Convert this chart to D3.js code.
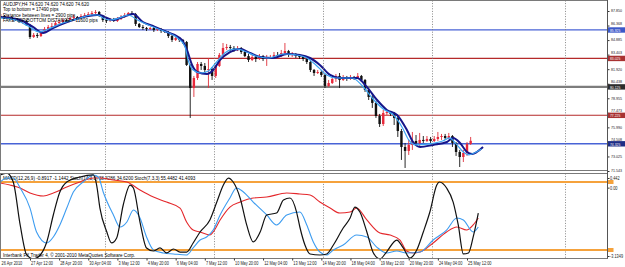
<!DOCTYPE html>
<html><head><meta charset="utf-8">
<script src="https://cdn.jsdelivr.net/npm/d3@7"></script>
<style>
html,body{margin:0;padding:0;background:#fff;overflow:hidden}
svg{display:block}
text{font-family:"Liberation Sans",Arial,sans-serif}
</style>
</head><body>
<svg id="c" width="625" height="267"></svg>
<script>
// ---------- DATA ----------
const opens = [87.14,87.24,87.34,87.14,87.24,87.04,86.93,86.73,86.83,86.42,
85.20,85.41,85.30,85.71,86.02,86.22,86.32,86.63,86.73,86.93,
86.83,87.14,87.24,87.14,87.34,87.44,87.54,87.65,87.75,87.34,
86.93,86.83,87.04,86.83,87.04,87.24,87.44,87.65,87.54,86.53,
86.22,86.12,86.02,86.12,85.91,86.02,85.81,85.71,85.30,84.90,
85.10,84.90,84.69,82.35,80.00,81.02,82.45,82.25,81.84,81.94,
81.23,82.25,83.37,84.08,84.18,84.08,83.98,84.08,83.67,83.26,
82.86,83.16,82.96,83.26,82.96,83.06,83.16,83.37,83.26,83.57,
83.77,83.37,83.47,83.26,83.16,82.96,82.65,81.84,81.53,81.63,
81.33,80.21,80.51,80.92,81.23,80.82,81.02,80.92,81.13,81.02,
81.23,80.82,79.80,79.09,78.48,77.15,76.33,77.46,77.56,77.36,
76.95,75.62,73.99,73.59,74.20,74.60,74.40,74.71,74.60,74.81,
74.60,74.81,75.01,75.11,74.91,75.11,74.40,73.48,72.97,73.38,
74.30];
const highs = [87.44,87.54,87.44,87.44,87.34,87.14,87.04,86.93,86.93,86.53,
85.61,85.61,85.81,86.22,86.42,86.63,86.83,86.93,87.14,87.04,
87.24,87.44,87.34,87.54,87.65,87.75,87.85,87.95,87.85,87.44,
87.14,87.14,87.14,87.24,87.44,87.65,87.75,87.85,87.65,86.63,
86.42,86.22,86.22,86.22,86.12,86.12,85.91,85.81,85.41,85.20,
85.20,85.00,84.79,82.45,81.23,82.65,82.65,82.55,83.06,82.14,
82.35,83.57,84.59,84.49,84.39,84.28,84.28,84.18,83.88,83.47,
83.37,83.37,83.47,83.37,83.37,83.37,83.67,83.67,83.88,84.59,
83.88,83.67,83.57,83.47,83.26,83.16,82.75,81.94,81.84,81.84,
81.43,80.82,81.13,81.43,81.53,81.33,81.23,81.33,81.23,81.53,
81.33,80.92,79.90,79.29,78.68,77.36,77.76,77.76,77.66,77.56,
77.15,75.83,74.40,74.71,75.52,75.21,75.42,75.11,75.11,75.01,
75.11,75.52,75.32,75.32,75.42,75.21,74.50,73.69,73.69,74.50,
75.01];
const lows = [87.04,87.14,87.04,87.04,86.93,86.83,86.63,86.53,86.32,85.00,
85.10,85.10,85.20,85.61,85.91,86.12,86.22,86.53,86.63,86.73,
86.73,87.04,87.04,87.04,87.24,87.34,87.44,87.54,87.24,86.73,
86.63,86.73,86.73,86.73,86.93,87.14,87.34,87.44,86.32,86.12,
85.91,85.81,85.91,85.71,85.81,85.61,85.61,85.10,84.69,84.79,
84.69,84.49,82.25,76.95,79.09,80.82,81.84,81.53,80.00,80.82,
81.02,82.14,83.26,83.88,83.77,83.67,83.77,83.47,83.16,82.65,
82.75,82.65,82.86,82.75,82.25,82.96,83.06,83.06,83.16,83.47,
83.16,83.16,83.06,82.96,82.75,82.45,81.63,81.23,81.43,81.13,
80.00,80.11,80.41,80.62,80.00,80.72,80.72,80.82,80.82,80.92,
80.62,79.60,78.78,77.97,76.95,76.03,76.13,77.25,77.15,76.23,
75.01,72.67,71.85,73.18,73.69,74.09,73.99,74.40,74.50,74.40,
74.50,74.60,74.71,74.71,74.81,73.99,73.08,71.95,72.46,73.08,
74.20];
const closes = [87.24,87.34,87.14,87.24,87.04,86.93,86.73,86.83,86.42,85.20,
85.41,85.30,85.71,86.02,86.22,86.32,86.63,86.73,86.93,86.83,
87.14,87.24,87.14,87.34,87.44,87.54,87.65,87.75,87.34,86.93,
86.83,87.04,86.83,87.04,87.24,87.44,87.65,87.54,86.53,86.22,
86.12,86.02,86.12,85.91,86.02,85.81,85.71,85.30,84.90,85.10,
84.90,84.69,82.35,80.00,81.02,82.45,82.25,81.84,81.94,81.23,
82.25,83.37,84.08,84.18,84.08,83.98,84.08,83.67,83.26,82.86,
83.16,82.96,83.26,82.96,83.06,83.16,83.37,83.26,83.57,83.77,
83.37,83.47,83.26,83.16,82.96,82.65,81.84,81.53,81.63,81.33,
80.21,80.51,80.92,81.23,80.82,81.02,80.92,81.13,81.02,81.23,
80.82,79.80,79.09,78.48,77.15,76.33,77.46,77.56,77.36,76.95,
75.62,73.99,73.59,74.20,74.60,74.40,74.71,74.60,74.81,74.60,
74.81,75.01,75.11,74.91,75.11,74.40,73.48,72.97,73.38,74.30,
74.62];

// moving averages: [bar, price]
const maSlow = [[0.8,87.24],[6.3,86.93],[9.8,86.22],[12.6,85.61],[15.3,86.12],[19.2,86.73],[22.7,87.14],[27.4,87.44],[28.2,87.44],[30.1,87.14],[31.8,86.93],[34.5,87.24],[37.3,87.54],[40.0,86.73],[42.8,86.32],[46.6,85.71],[50.7,84.90],[52.1,83.88],[53.5,82.35],[54.9,81.63],[57.6,81.43],[59.3,81.84],[61.2,82.86],[63.9,83.67],[66.7,83.98],[69.4,83.57],[72.2,83.16],[75.7,83.06],[79.6,83.47],[83.1,83.37],[85.9,83.06],[88.6,82.35],[91.4,81.33],[94.1,81.02],[98.8,81.02],[101.5,80.11],[104.3,78.78],[107.0,77.76],[109.8,77.25],[112.5,75.72],[114.2,74.50],[116.1,73.99],[119.7,74.20],[123.5,74.50],[125.2,74.91],[127.1,74.40],[129.0,73.48],[130.4,73.28],[131.7,73.48],[133.4,73.99]];
const maFast = [[0.8,87.14],[5,86.93],[8.5,86.32],[11.5,85.71],[14,86.02],[18,86.63],[22,87.04],[26,87.44],[27.5,87.44],[29.5,87.04],[31,86.93],[33.5,87.14],[36,87.44],[38.5,86.93],[41.5,86.42],[45,85.91],[49.5,85.10],[51.5,84.28],[52.5,82.75],[53.8,81.84],[56,81.53],[58,81.74],[60,82.55],[62.5,83.57],[65.5,83.98],[68.5,83.67],[71,83.26],[74.5,83.06],[78.5,83.47],[82,83.37],[85,83.06],[87.5,82.35],[90.5,81.33],[93,81.02],[97.5,81.02],[100.3,80.21],[103.2,78.88],[106,77.86],[108.8,77.25],[111.3,75.93],[113,74.71],[115,74.20],[118.5,74.30],[122.3,74.60],[124.2,74.91],[126,74.30],[128,73.48],[129.5,73.18],[131,73.38],[133,73.79]];

const levelPrices = [85.925, 83.025, 80.125, 77.225, 74.325];
const priceTicks = [87.850, 86.368, 84.885, 83.403, 81.920, 80.438, 78.955, 77.473, 75.990, 74.508, 73.025, 71.543];
const timeBars = [0,9,17,25,33,41,49,57,65,73,81,89,97,105,113,121,129];
const timeLabels = ["26 Apr 2010","27 Apr 12:00","28 Apr 20:00","30 Apr 04:00","3 May 12:00","4 May 20:00","6 May 04:00","7 May 12:00","10 May 20:00","12 May 04:00","13 May 12:00","14 May 20:00","18 May 04:00","19 May 12:00","20 May 20:00","24 May 04:00","25 May 12:00"];
const separatorBars = [29.5, 59.5, 89.5, 119.5, 156];

const headerLines = ["AUDJPY,H4  74.620 74.620 74.620 74.620","Top to bottom = 17490 pips","Distance between lines = 2900 pips","FAKE TOP/BOTTOM DISTANCE = 11600 pips"];
const oscHeader = "MACD(12,26,9) -0.8917 -1.1442  Stoch(14,3,3) 38.4286 34.6200  Stoch(7,3,3) 55.4482 41.4093";
const footer = "Interbank FX Trader 4, \u00A9 2001-2010 MetaQuotes Software Corp.";

// oscillators: [bar, value]
const oscSlow = [[0.8,79.1],[3.5,77.3],[6.3,74.7],[9.0,70.3],[12.7,67.6],[15.4,70.3],[19.1,75.6],[22.7,80.0],[26.4,83.5],[28.2,83.5],[31.9,81.8],[35.6,80.0],[39.2,72.9],[42.9,66.7],[46.5,62.3],[50.2,57.0],[52.0,44.7],[53.8,37.6],[55.7,35.9],[58.4,33.2],[59.3,35.9],[61.2,46.5],[63.9,57.9],[66.7,62.3],[70.3,65.9],[74.0,66.7],[79.5,70.3],[83.1,69.4],[85.9,68.5],[88.6,62.3],[91.4,57.0],[94.1,52.6],[96.9,53.5],[98.7,57.0],[101.5,46.5],[105.1,35.0],[107.9,33.2],[110.6,28.8],[112.4,19.1],[114.2,17.4],[116.1,18.2],[119.7,26.2],[123.4,35.9],[126.2,40.3],[128.9,37.6],[130.7,42.1],[132.1,48.2]];
const oscSignal = [[0.8,80.0],[2.6,83.5],[4.4,83.5],[6.3,74.7],[9.0,57.0],[10.8,35.9],[13.6,26.2],[15.4,31.5],[17.2,42.1],[19.1,57.0],[20.9,71.2],[23.6,80.0],[26.4,86.2],[27.8,84.4],[29.1,71.2],[31.9,50.9],[33.7,40.3],[35.6,44.7],[37.4,55.3],[39.2,48.2],[41.0,31.5],[42.9,20.0],[45.6,17.4],[48.4,16.5],[52.0,15.6],[53.8,21.8],[55.7,28.8],[57.5,31.5],[59.3,37.6],[61.2,50.9],[63.9,65.9],[65.7,74.7],[67.6,71.2],[70.3,62.3],[74.0,50.9],[76.7,42.1],[79.5,50.9],[83.1,53.5],[85.0,42.1],[86.8,27.1],[88.6,18.2],[90.5,15.6],[92.3,20.0],[95.0,24.4],[98.7,33.2],[101.5,31.5],[104.2,22.6],[106.9,17.4],[109.7,19.1],[112.4,17.4],[116.1,18.2],[119.7,28.8],[123.4,37.6],[126.2,48.2],[128.0,46.5],[130.7,35.9],[132.1,40.3]];
const oscFast = [[0.8,86.2],[2.6,87.9],[4.4,80.0],[6.3,42.1],[8.1,15.6],[9.9,12.1],[11.8,15.6],[13.6,27.1],[15.4,50.9],[17.2,71.2],[19.1,80.0],[22.7,84.4],[26.4,86.2],[27.3,77.3],[28.2,57.0],[30.1,35.9],[31.4,26.2],[32.8,30.6],[34.6,59.7],[36.5,77.3],[37.4,74.7],[39.2,44.7],[41.0,21.8],[42.9,19.1],[44.7,21.8],[46.5,17.4],[48.4,20.9],[50.2,18.2],[52.0,18.2],[53.8,26.2],[55.7,35.9],[58.4,46.5],[60.3,62.3],[62.1,77.3],[63.5,83.5],[64.8,80.0],[66.7,65.9],[68.5,42.1],[70.3,27.1],[72.2,35.9],[74.0,50.9],[76.7,52.6],[78.6,64.1],[80.4,65.9],[82.2,53.5],[83.1,40.3],[84.5,24.4],[85.9,16.5],[88.6,15.6],[90.5,16.5],[92.3,24.4],[95.0,39.4],[96.9,48.2],[98.2,57.9],[99.6,53.5],[101.5,35.9],[103.3,17.4],[105.1,12.1],[106.9,18.2],[109.7,28.8],[111.5,21.8],[113.3,12.9],[115.2,20.0],[117.0,35.9],[118.8,53.5],[120.7,77.3],[121.4,80.0],[123.4,74.7],[125.2,62.3],[126.6,42.1],[128.0,16.5],[129.4,17.4],[130.7,31.5],[132.1,52.6]];
const oscLevels = [80, 20];
const macdTicks = [0.442, 0, -3.1349];
const macdLabels = ["0.442", "0.00", "-3.1349"];

// ---------- STYLES / LAYOUT ----------
const FS = 4.6;
const SX = 0.84; // horizontal compression of small axis texts
const levelStroke = ["#4863d6", "#b52a2a", "#7d7d7d", "#b52a2a", "#4863d6"];
const levelWidth = [1.4, 1.2, 2.2, 1.2, 1.4];
const levelBox = ["#3c58c8", "#a83232", "#2c2c2c", "#a83232", "#1f2e86"];
const plotR = 607.5;
const main = {top: 0.5, bot: 170.5};
const osc = {top: 173.5, bot: 258.5};

const svg = d3.select("#c");
const x = d3.scaleLinear().domain([9, 129]).range([30, 467]);
const yP = d3.scaleLinear().domain([87.850, 71.543]).range([11, 171]);
const yO = d3.scaleLinear().domain([80, 20]).range([182, 250]);
const yM = d3.scaleLinear().domain([0.442, -3.1349]).range([178, 256]);

const defs = svg.append("defs");
defs.append("clipPath").attr("id", "cm").append("rect").attr("x", 0.5).attr("y", main.top).attr("width", plotR - 0.5).attr("height", main.bot - main.top);
defs.append("clipPath").attr("id", "co").append("rect").attr("x", 0.5).attr("y", osc.top).attr("width", plotR - 0.5).attr("height", osc.bot - osc.top);

// ---------- MAIN PANE ----------
const gm = svg.append("g").attr("clip-path", "url(#cm)");
[[main.top, main.bot], [osc.top, osc.bot]].forEach(([t, b]) => {
  svg.append("g").selectAll("line").data(separatorBars).join("line")
    .attr("x1", d => Math.round(x(d)) + 0.5).attr("x2", d => Math.round(x(d)) + 0.5)
    .attr("y1", t).attr("y2", b)
    .attr("stroke", "#7a7a7a").attr("stroke-width", 0.9).attr("stroke-dasharray", "1,1.6");
});
gm.selectAll("line.lvl").data(levelPrices).join("line").attr("class", "lvl")
  .attr("x1", 0).attr("x2", plotR).attr("y1", d => yP(d)).attr("y2", d => yP(d))
  .attr("stroke", (d, i) => levelStroke[i]).attr("stroke-width", (d, i) => levelWidth[i]);

const bars = d3.range(closes.length);
gm.selectAll("line.wick").data(bars).join("line").attr("class", "wick")
  .attr("x1", i => x(i)).attr("x2", i => x(i))
  .attr("y1", i => yP(Math.max(highs[i], opens[i], closes[i])))
  .attr("y2", i => yP(Math.min(lows[i], opens[i], closes[i])))
  .attr("stroke", i => closes[i] > opens[i] ? "#e0303a" : "#111")
  .attr("stroke-width", 0.9);
gm.selectAll("rect.body").data(bars).join("rect").attr("class", "body")
  .attr("x", i => x(i) - 1.2).attr("width", 2.4)
  .attr("y", i => yP(Math.max(opens[i], closes[i])))
  .attr("height", i => Math.max(0.8, Math.abs(yP(opens[i]) - yP(closes[i]))))
  .attr("fill", i => closes[i] > opens[i] ? "#e8283a" : "#111");

const maLine = d3.line().x(d => x(d[0])).y(d => yP(d[1])).curve(d3.curveMonotoneX);
gm.append("path").attr("d", maLine(maSlow)).attr("fill", "none").attr("stroke", "#16168a").attr("stroke-width", 2);
gm.append("path").attr("d", maLine(maFast)).attr("fill", "none").attr("stroke", "#3ba4f2").attr("stroke-width", 1.2);

gm.selectAll("text.hdr").data(headerLines).join("text").attr("class", "hdr")
  .attr("x", 3).attr("y", (d, i) => 6 + i * 5.4)
  .attr("font-size", FS).attr("fill", "#000").text(d => d);

// ---------- OSC PANE ----------
const go = svg.append("g").attr("clip-path", "url(#co)");
go.selectAll("line.ol").data(oscLevels).join("line").attr("class", "ol")
  .attr("x1", 0).attr("x2", plotR).attr("y1", d => yO(d)).attr("y2", d => yO(d))
  .attr("stroke", "#f5a23c").attr("stroke-width", 2);
go.append("text").attr("x", 3).attr("y", 180).attr("font-size", FS).attr("fill", "#000").text(oscHeader);
const oLine = d3.line().x(d => x(d[0])).y(d => yO(d[1])).curve(d3.curveMonotoneX);
go.append("path").attr("d", oLine(oscSlow)).attr("fill", "none").attr("stroke", "#e4282c").attr("stroke-width", 1.1);
go.append("path").attr("d", oLine(oscSignal)).attr("fill", "none").attr("stroke", "#3d9cf0").attr("stroke-width", 1.1);
go.append("path").attr("d", oLine(oscFast)).attr("fill", "none").attr("stroke", "#111").attr("stroke-width", 1.2);
go.append("text").attr("x", 3).attr("y", 256.5).attr("font-size", FS).attr("fill", "#000").text(footer);

// ---------- FRAMES ----------
[main, osc].forEach(p => {
  svg.append("rect").attr("x", 0.5).attr("y", p.top).attr("width", plotR - 0.5).attr("height", p.bot - p.top)
    .attr("fill", "none").attr("stroke", "#7a7a7a").attr("stroke-width", 1);
});

// ---------- AXES ----------
function squeeze(sel, dx, fs) {
  sel.attr("font-size", fs).attr("fill", "#222")
    .attr("font-family", '"Liberation Sans",Arial,sans-serif')
    .attr("transform", `scale(${SX},1)`).attr("x", dx / SX);
}
const ax = svg.append("g").attr("transform", `translate(${plotR},0)`)
  .call(d3.axisRight(yP).tickValues(priceTicks).tickSize(2).tickPadding(1.5).tickFormat(d3.format(".3f")));
ax.select(".domain").remove();
ax.selectAll("line").attr("stroke", "#333");
squeeze(ax.selectAll("text"), 3.5, 4.3);
// labels sitting just above a level box are lifted a little (their lower part is hidden by the box in the original)
ax.selectAll("text").attr("dy", d => levelPrices.some(l => Math.abs(yP(d) - yP(l)) < 6) ? "-0.25em" : "0.2em");

const boxes = svg.append("g");
boxes.selectAll("rect").data(levelPrices).join("rect")
  .attr("x", plotR).attr("width", 625 - plotR).attr("y", d => yP(d) - 2.6).attr("height", 5.4)
  .attr("fill", (d, i) => levelBox[i]);
boxes.selectAll("text").data(levelPrices).join("text")
  .attr("x", (plotR + 2.5) / SX).attr("y", d => yP(d) + 1.9)
  .attr("transform", `scale(${SX},1)`)
  .attr("font-size", 4.0).attr("fill", "#fff").text(d => d3.format(".3f")(d));

const axm = svg.append("g").attr("transform", `translate(${plotR},0)`)
  .call(d3.axisRight(yM).tickValues(macdTicks).tickSize(2).tickPadding(1).tickFormat((d, i) => macdLabels[i]));
axm.select(".domain").remove();
axm.selectAll("line").attr("stroke", "#333");
squeeze(axm.selectAll("text"), 2.5, FS);

svg.append("g").selectAll("rect").data(oscLevels).join("rect")
  .attr("x", plotR).attr("width", 6).attr("y", d => yO(d) - 2).attr("height", 4).attr("fill", "#f5a23c");

svg.append("line").attr("x1", plotR).attr("x2", plotR).attr("y1", 0).attr("y2", osc.bot).attr("stroke", "#555").attr("stroke-width", 1);

const axb = svg.append("g").attr("transform", `translate(0,${osc.bot})`)
  .call(d3.axisBottom(x).tickValues(timeBars).tickSize(2).tickPadding(1).tickFormat((d, i) => timeLabels[i]));
axb.select(".domain").remove();
axb.selectAll("line").attr("stroke", "#333");
axb.selectAll("text").attr("font-size", FS).attr("fill", "#222").attr("text-anchor", "start")
  .attr("font-family", '"Liberation Sans",Arial,sans-serif')
  .attr("transform", `scale(${SX},1)`)
  .attr("x", d => Math.max(1 - x(d), 0.6) / SX);
</script>
</body></html>
